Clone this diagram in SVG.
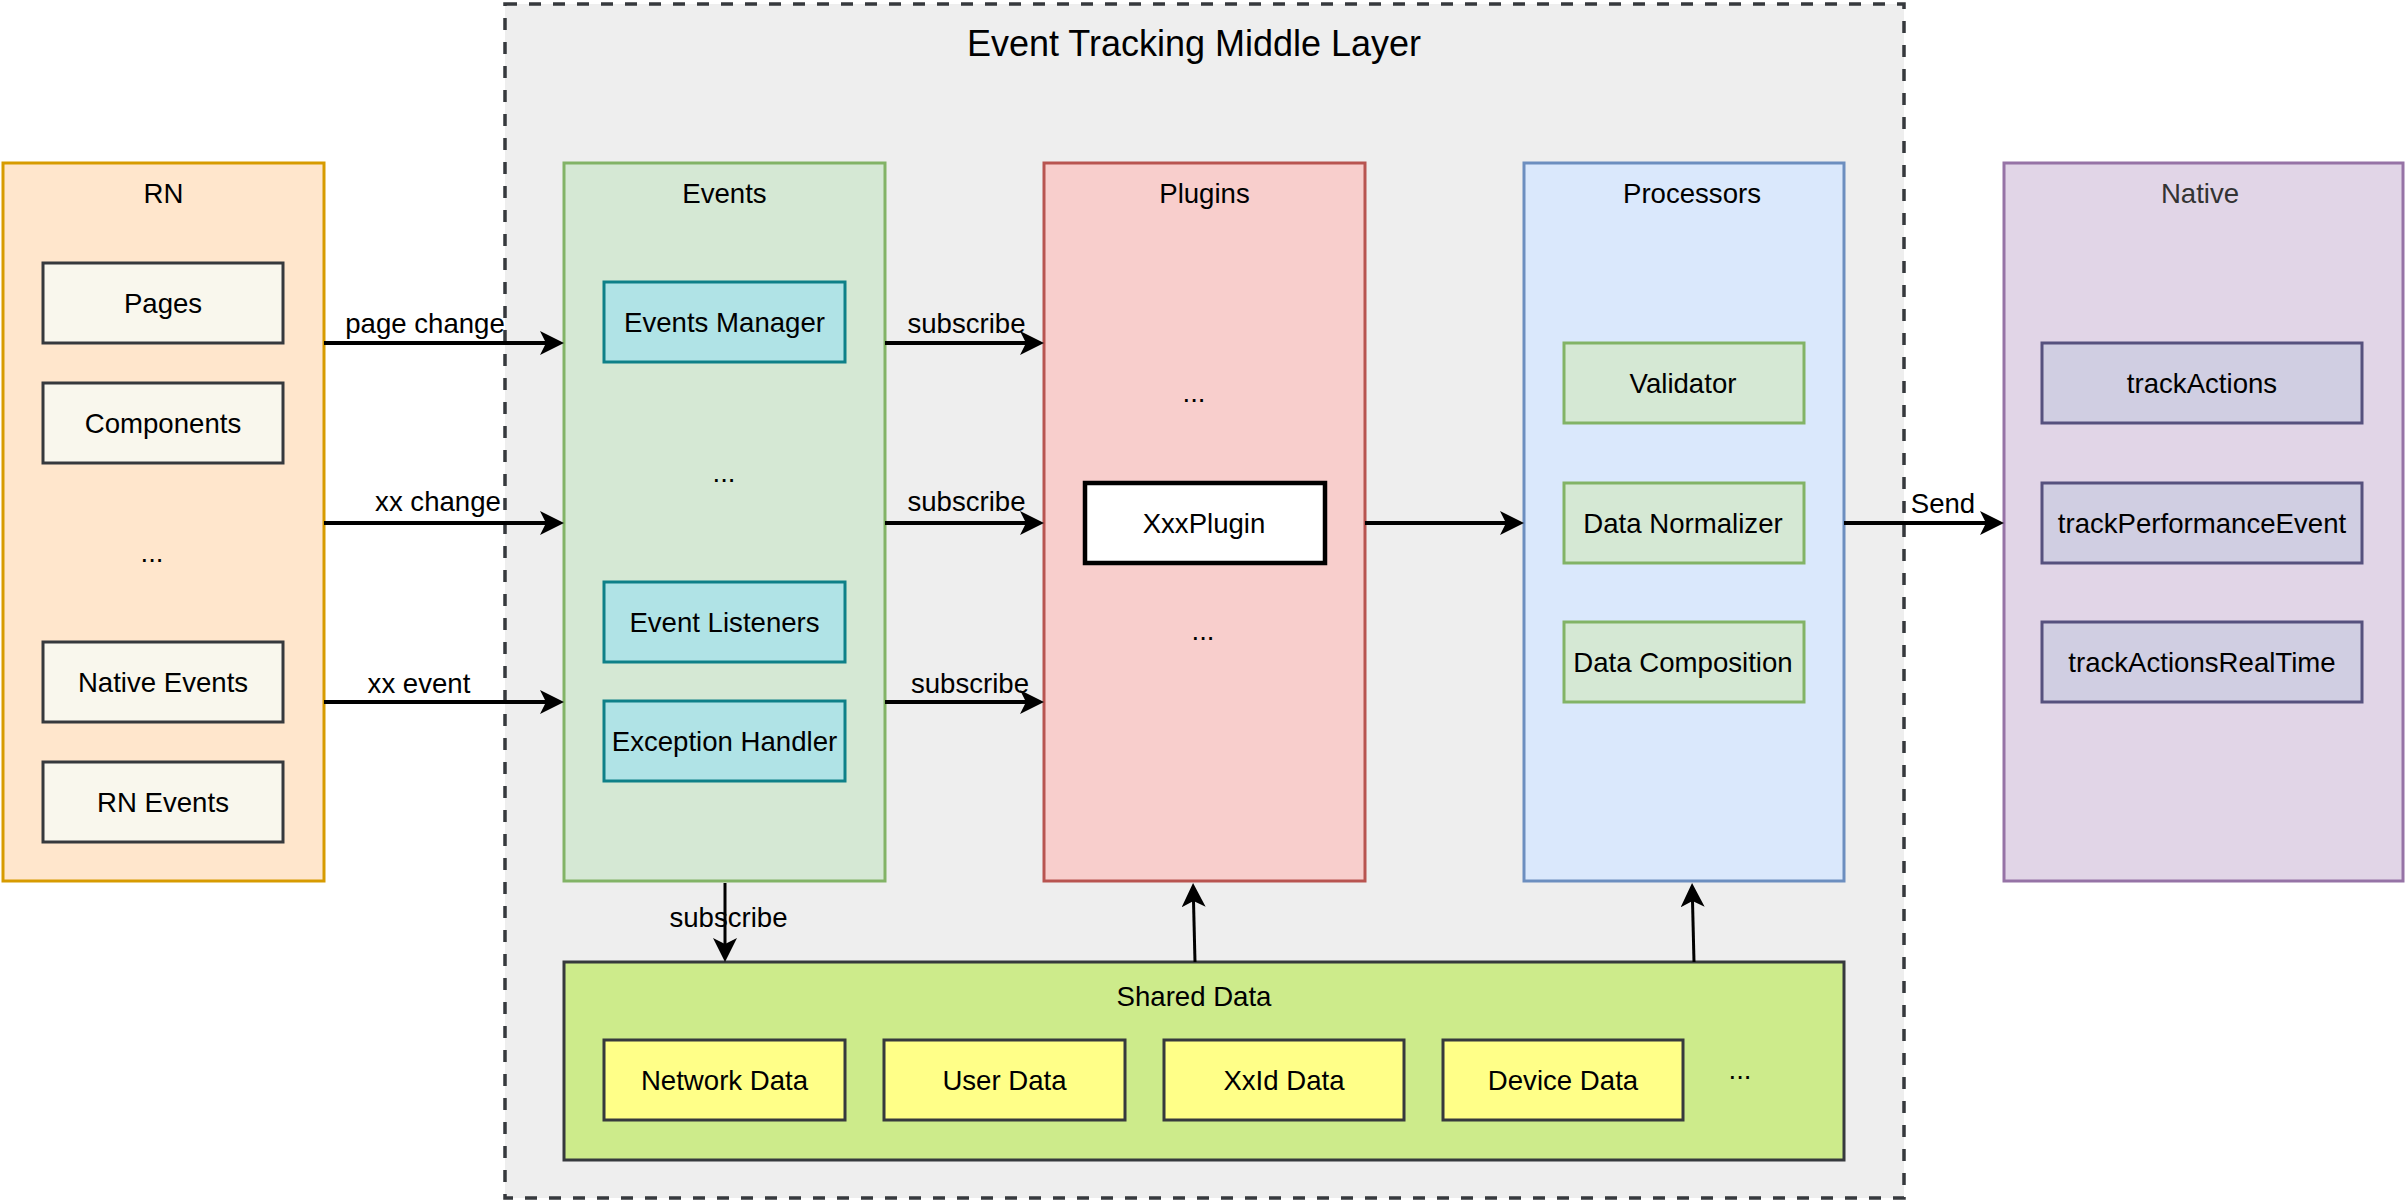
<svg xmlns="http://www.w3.org/2000/svg" width="2406" height="1204" viewBox="0 0 2406 1204">
<defs>
<style>
text{font-family:"Liberation Sans",Arial,Helvetica,sans-serif;font-size:27.6px;fill:#000;text-anchor:middle}
.t{font-size:36px}
.col{stroke-width:3}
.rn{fill:#ffe6cc;stroke:#d79b00}
.ev{fill:#d5e8d4;stroke:#82b366}
.pl{fill:#f8cecc;stroke:#b85450}
.pr{fill:#dae8fc;stroke:#6c8ebf}
.na{fill:#e1d5e7;stroke:#9673a6}
.rni{fill:#f9f7ed;stroke:#36393d;stroke-width:3}
.evi{fill:#b0e3e6;stroke:#0e8088;stroke-width:3}
.pri{fill:#d5e8d4;stroke:#82b366;stroke-width:3}
.nai{fill:#d0cee2;stroke:#56517e;stroke-width:3}
.sd{fill:#cdeb8b;stroke:#36393d;stroke-width:3}
.sdi{fill:#ffff88;stroke:#36393d;stroke-width:3}
.h{stroke:#000;stroke-width:4;fill:none}
.v{stroke:#000;stroke-width:3;fill:none}
</style>
<marker id="arr" markerUnits="userSpaceOnUse" markerWidth="24" markerHeight="24" viewBox="0 0 24 24" refX="6" refY="12" orient="auto">
<path d="M0,0 L24,12 L0,24 L6,12 Z" fill="#000"/>
</marker>
</defs>

<g id="middle-layer">
<rect x="505" y="4" width="1399" height="1194" fill="#eeeeee" stroke="#36393d" stroke-width="3.5" stroke-dasharray="12 12"/>
<text class="t" x="1194" y="56">Event Tracking Middle Layer</text>
</g>

<g id="rn">
<rect class="col rn" x="3" y="163" width="321" height="718"/>
<text x="163.5" y="203">RN</text>
<rect class="rni" x="43" y="263" width="240" height="80"/>
<text x="163" y="313">Pages</text>
<rect class="rni" x="43" y="383" width="240" height="80"/>
<text x="163" y="433">Components</text>
<text x="152" y="562">...</text>
<rect class="rni" x="43" y="642" width="240" height="80"/>
<text x="163" y="692">Native Events</text>
<rect class="rni" x="43" y="762" width="240" height="80"/>
<text x="163" y="812">RN Events</text>
</g>

<g id="events">
<rect class="col ev" x="564" y="163" width="321" height="718"/>
<text x="724.5" y="203">Events</text>
<rect class="evi" x="604" y="282" width="241" height="80"/>
<text x="724.5" y="332">Events Manager</text>
<text x="724" y="482">...</text>
<rect class="evi" x="604" y="582" width="241" height="80"/>
<text x="724.5" y="632">Event Listeners</text>
<rect class="evi" x="604" y="701" width="241" height="80"/>
<text x="724.5" y="751">Exception Handler</text>
</g>

<g id="plugins">
<rect class="col pl" x="1044" y="163" width="321" height="718"/>
<text x="1204.5" y="203">Plugins</text>
<text x="1194" y="402">...</text>
<rect x="1085" y="483" width="240" height="80" fill="#ffffff" stroke="#000" stroke-width="4.5"/>
<text x="1204" y="533">XxxPlugin</text>
<text x="1203" y="640">...</text>
</g>

<g id="processors">
<rect class="col pr" x="1524" y="163" width="320" height="718"/>
<text x="1692" y="203">Processors</text>
<rect class="pri" x="1564" y="343" width="240" height="80"/>
<text x="1683" y="393">Validator</text>
<rect class="pri" x="1564" y="483" width="240" height="80"/>
<text x="1683" y="533">Data Normalizer</text>
<rect class="pri" x="1564" y="622" width="240" height="80"/>
<text x="1683" y="672">Data Composition</text>
</g>

<g id="native">
<rect class="col na" x="2004" y="163" width="399" height="718"/>
<text x="2200" y="203" style="fill:#333333">Native</text>
<rect class="nai" x="2042" y="343" width="320" height="80"/>
<text x="2202" y="393">trackActions</text>
<rect class="nai" x="2042" y="483" width="320" height="80"/>
<text x="2202" y="533">trackPerformanceEvent</text>
<rect class="nai" x="2042" y="622" width="320" height="80"/>
<text x="2202" y="672">trackActionsRealTime</text>
</g>

<g id="shared-data">
<rect class="sd" x="564" y="962" width="1280" height="198"/>
<text x="1194" y="1006">Shared Data</text>
<rect class="sdi" x="604" y="1040" width="241" height="80"/>
<text x="724.5" y="1090">Network Data</text>
<rect class="sdi" x="884" y="1040" width="241" height="80"/>
<text x="1004.5" y="1090">User Data</text>
<rect class="sdi" x="1164" y="1040" width="240" height="80"/>
<text x="1284" y="1090">XxId Data</text>
<rect class="sdi" x="1443" y="1040" width="240" height="80"/>
<text x="1563" y="1090">Device Data</text>
<text x="1740" y="1079">...</text>
</g>

<g id="connectors">
<line class="h" x1="324" y1="343" x2="546" y2="343" marker-end="url(#arr)"/>
<line class="h" x1="324" y1="523" x2="546" y2="523" marker-end="url(#arr)"/>
<line class="h" x1="324" y1="702" x2="546" y2="702" marker-end="url(#arr)"/>
<line class="h" x1="885" y1="343" x2="1026" y2="343" marker-end="url(#arr)"/>
<line class="h" x1="885" y1="523" x2="1026" y2="523" marker-end="url(#arr)"/>
<line class="h" x1="885" y1="702" x2="1026" y2="702" marker-end="url(#arr)"/>
<line class="h" x1="1365" y1="523" x2="1506" y2="523" marker-end="url(#arr)"/>
<line class="h" x1="1844" y1="523" x2="1986" y2="523" marker-end="url(#arr)"/>
<line class="v" x1="725" y1="883" x2="725" y2="944" marker-end="url(#arr)"/>
<line class="v" x1="1195" y1="962" x2="1193.5" y2="901" marker-end="url(#arr)"/>
<line class="v" x1="1694" y1="962" x2="1692.5" y2="901" marker-end="url(#arr)"/>
<text x="425" y="333">page change</text>
<text x="438" y="511">xx change</text>
<text x="419" y="693">xx event</text>
<text x="966.5" y="333">subscribe</text>
<text x="966.5" y="511">subscribe</text>
<text x="970" y="693">subscribe</text>
<text x="1943" y="513">Send</text>
<text x="728.5" y="927">subscribe</text>
</g>
</svg>
